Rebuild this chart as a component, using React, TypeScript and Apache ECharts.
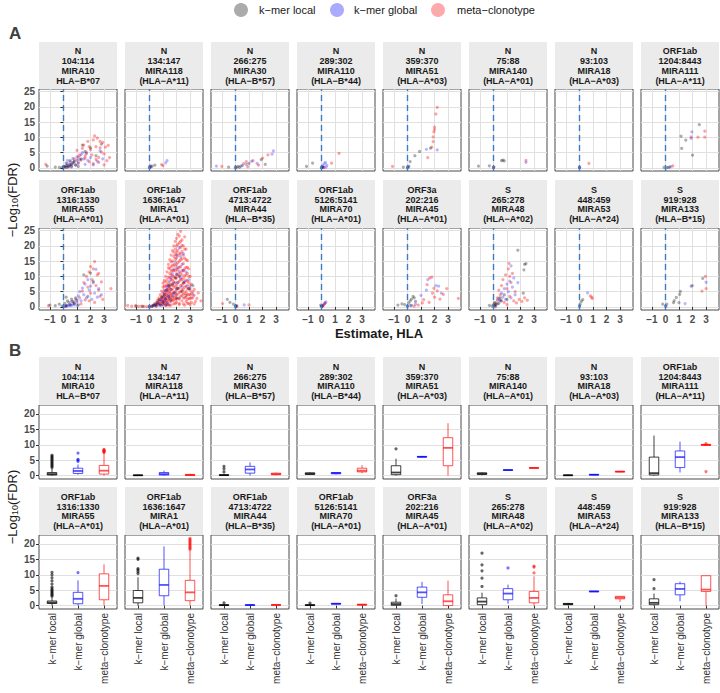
import React, { useEffect, useRef } from 'react';
import * as echarts from 'echarts';

const groups = ['k\u2212mer local', 'k\u2212mer global', 'meta\u2212clonotype'];

const facetProtein = ['N', 'N', 'N', 'N', 'N', 'N', 'N', 'ORF1ab', 'ORF1ab', 'ORF1ab', 'ORF1ab', 'ORF1ab', 'ORF3a', 'S', 'S', 'S'];
const facetRange = ['104:114', '134:147', '266:275', '289:302', '359:370', '75:88', '93:103', '1204:8443', '1316:1330', '1636:1647', '4713:4722', '5126:5141', '202:216', '265:278', '448:459', '919:928'];
const facetMira = ['MIRA10', 'MIRA118', 'MIRA30', 'MIRA110', 'MIRA51', 'MIRA140', 'MIRA18', 'MIRA111', 'MIRA55', 'MIRA1', 'MIRA44', 'MIRA70', 'MIRA45', 'MIRA48', 'MIRA53', 'MIRA133'];
const facetHla = ['HLA\u2212B*07', '(HLA\u2212A*11)', '(HLA\u2212B*57)', '(HLA\u2212B*44)', '(HLA\u2212A*03)', '(HLA\u2212A*01)', '(HLA\u2212A*03)', '(HLA\u2212A*11)', '(HLA\u2212A*01)', '(HLA\u2212A*01)', '(HLA\u2212B*35)', '(HLA\u2212A*01)', '(HLA\u2212A*01)', '(HLA\u2212A*02)', '(HLA\u2212A*24)', '(HLA\u2212B*15)'];

const xTicksA = [-1, 0, 1, 2, 3];
const yTicksA = [0, 5, 10, 15, 20, 25];
const yTicksB = [0, 5, 10, 15, 20];

// Panel A: [Estimate, -log10(FDR)] per facet
const localPts: number[][][] = [
  [[-0.3,0.2],[-0.1,0.1],[0,0.3],[0.1,0.5],[0.2,0.2],[0.3,0.8],[0.4,0.4],[0.5,1.2],[0.6,0.6],[0.7,1.5],[0.8,2.1],[0.9,1.0],[1.0,2.6],[1.1,0.5],[1.3,3.0],[1.4,7.5],[1.6,5.4],[2.0,6.6],[2.4,4.0],[2.8,7.8],[-1.2,0.6],[-0.6,0.3],[0.2,1.6],[0.5,2.4]],
  [[0,0.1],[0.2,0.6],[0.4,0.9]],
  [[-0.5,0.3],[0,0.1],[0.2,0.5],[0.5,0.8],[1.0,1.5],[1.9,2.7],[2.2,1.2],[0.3,0.2]],
  [[-1.1,0.5],[-0.65,1.6],[0,0.1],[0.1,0.3]],
  [[0,0.2],[0.1,0.6],[0.2,2.1],[0.55,4.0],[0.9,5.4],[1.7,6.5],[-0.3,0.3]],
  [[-1.1,0.6],[-0.3,0.7],[0,0.2],[0.6,2.4],[0.8,2.3],[0.7,2.6]],
  [[0,0.1]],
  [[-0.1,0.2],[0.1,0.1],[0.3,0.3],[1.15,10.4],[1.5,9.1],[1.2,6.4],[2.5,14.2],[2.0,4.2]],
  [[-1.0,0.6],[-0.6,0.4],[-0.3,0.9],[-0.1,0.3],[0.1,1.2],[0.2,0.5],[0.3,2.0],[0.4,1.5],[0.5,0.8],[0.6,2.6],[0.7,1.8],[0.8,1.1],[1.0,2.2],[1.1,0.6],[1.5,10.5],[2.0,11.1],[2.2,8.0],[1.8,3.5],[0.9,3.0],[0.2,3.2]],
  [[-1.0,0.3],[-0.5,0.2],[0,0.1],[0.2,0.3],[0.3,0.6],[0.5,0.3],[0.6,1.5],[0.7,2.4],[0.8,0.8],[0.9,3.2],[1.0,1.6],[1.1,4.0],[1.2,2.6],[1.3,5.5],[1.4,3.4],[1.5,6.8],[1.6,1.9],[1.7,7.5],[1.8,4.5],[1.9,9.5],[2.0,3.0],[2.1,6.2],[2.2,10.2],[2.4,5.0],[2.5,8.0],[2.7,3.8],[2.9,6.0],[3.2,7.0],[1.2,0.6],[0.4,1.0]],
  [[-0.6,2.5],[-0.4,1.5],[-0.15,0.9],[0,0.2],[0.1,0.4]],
  [[0,0.3],[-0.05,0.6],[0.05,0.2]],
  [[-0.7,0.6],[-0.4,1.0],[-0.2,0.8],[0,0.3],[0.1,1.3],[0.2,2.0],[0.3,2.6],[0.42,3.5],[0.6,1.8],[0.3,0.5],[0.5,3.0]],
  [[-0.1,0.3],[0,0.6],[0.05,1.0],[0.1,1.5],[0.2,0.8],[0.3,2.2],[0.4,1.2],[0.5,3.0],[0.6,2.0],[0.8,4.0],[1.0,2.5],[1.8,18.6],[2.3,14.0],[2.25,12.2],[2.4,14.2],[2.2,4.5],[-0.3,0.5],[0.15,0.1]],
  [[0,0.3],[0.05,0.9],[0.15,1.8],[0.25,2.4]],
  [[-0.2,0.9],[0.1,0.9],[0.6,1.4],[0.65,2.1],[0.8,3.1],[1.0,1.4],[1.05,4.1],[1.1,5.1],[1.9,6.8],[2.75,9.4],[0,0.3]],
];

const globalPts: number[][][] = [
  [[0.1,0.3],[0.2,0.8],[0.3,1.4],[0.4,0.6],[0.5,2.0],[0.6,1.2],[0.7,3.1],[0.8,2.2],[0.9,0.9],[1.0,3.6],[1.1,1.8],[1.2,2.8],[1.3,4.4],[1.5,3.0],[1.6,1.2],[1.8,2.5],[2.0,3.4],[2.2,1.0],[2.5,2.2],[2.7,5.6],[1.4,5.0],[0.3,2.5],[0.6,0.3],[1.7,4.7],[2.9,3.0]],
  [[0,0.2],[0.1,0.4],[0.05,0.8],[1.3,2.4],[1.2,1.7]],
  [[-1.4,0.6],[0,0.2],[0.4,0.6],[0.8,1.2],[1.2,2.2],[2.7,4.5],[2.8,5.6],[1.6,1.5]],
  [[0,0.1],[0.05,0.4],[0.1,0.8],[0.2,1.4],[0.3,1.8],[0.4,0.9],[0.35,0.3],[0.15,0.1]],
  [[0,0.1],[2.2,5.9],[1.4,6.1],[0.1,0.3]],
  [[0,0.1],[2.4,1.8]],
  [[0,0.3],[0.02,0.1]],
  [[0.2,0.2],[0.4,0.4],[1.95,11.8],[1.9,9.7]],
  [[0,0.1],[0.1,0.2],[0.2,0.3],[0.3,0.4],[0.4,0.5],[0.5,0.6],[0.6,0.4],[0.7,1.0],[0.8,0.7],[0.9,2.5],[1.0,1.5],[1.1,3.6],[1.2,5.0],[1.3,2.0],[1.4,6.2],[1.5,4.0],[1.6,7.5],[1.7,3.0],[1.8,9.0],[1.9,5.5],[2.0,6.8],[2.1,2.5],[2.2,8.5],[2.3,4.5],[2.4,12.3],[2.5,3.2],[2.6,6.0],[1.0,0.5],[0.6,1.8],[2.8,4.0]],
  [[0.0,0.1],[0.2,0.2],[0.4,0.4],[0.5,0.8],[0.6,1.2],[0.7,0.6],[0.8,1.8],[0.9,2.5],[1.0,1.0],[1.0,3.5],[1.1,4.8],[1.1,2.0],[1.2,5.5],[1.2,3.0],[1.3,6.5],[1.3,1.4],[1.4,7.0],[1.4,4.0],[1.5,8.5],[1.5,2.8],[1.6,9.5],[1.6,5.8],[1.7,11.0],[1.7,3.6],[1.8,12.5],[1.8,7.8],[1.9,14.8],[1.9,4.5],[2.0,17.0],[2.0,10.5],[2.0,6.0],[2.1,13.0],[2.1,8.0],[2.2,19.5],[2.2,11.5],[2.2,3.0],[2.3,16.5],[2.3,9.5],[2.4,14.0],[2.4,6.5],[2.5,12.0],[2.5,17.5],[2.6,8.5],[2.7,11.5],[2.8,7.0],[2.9,9.0],[3.0,6.2],[3.2,4.0],[1.4,0.8],[0.9,0.4]],
  [[0,0.3],[0.05,0.1],[0.65,0.65]],
  [[0.33,1.7],[0.25,1.2],[0.1,0.5],[0,0.2]],
  [[0,0.2],[0.2,0.4],[1.0,3.8],[1.5,9.0],[2.1,7.0],[2.3,6.8],[0.6,0.9],[1.4,5.5],[2.5,4.5]],
  [[0.1,0.4],[0.3,1.0],[0.5,2.0],[0.6,4.5],[0.7,3.2],[0.8,6.0],[0.9,2.5],[1.0,7.5],[1.1,5.0],[1.2,8.5],[1.3,13.5],[1.4,6.5],[1.5,9.5],[1.6,4.0],[1.8,8.0],[1.3,3.0],[0.4,2.8]],
  [[0.6,4.6],[0.02,0.2]],
  [[1.45,1.1],[2.0,7.0],[3.0,8.1],[0.05,0.2]],
];

const metaPts: number[][][] = [
  [[-1.3,1.2],[0.0,0.5],[0.3,0.2],[0.5,1.0],[0.8,3.0],[1.0,5.8],[1.1,1.5],[1.2,4.2],[1.3,2.6],[1.4,6.4],[1.5,7.5],[1.6,3.2],[1.7,5.0],[1.8,8.7],[1.9,2.0],[2.0,6.0],[2.1,4.3],[2.2,9.2],[2.3,10.5],[2.4,7.0],[2.5,9.8],[2.6,3.5],[2.7,6.6],[2.8,5.2],[2.9,8.4],[3.0,4.6],[3.1,6.8],[3.2,2.4],[3.3,7.4],[2.2,1.4],[2.6,1.8],[3.4,3.4],[1.9,7.0],[2.7,8.7],[1.6,4.0],[2.4,2.8],[3.0,1.0],[0.7,1.8],[1.1,3.6]],
  [[0.9,1.1],[1.0,0.8],[0.1,0.3]],
  [[-1.0,0.5],[0.1,0.2],[0.6,1.4],[0.8,2.1],[1.3,2.4],[2.4,4.3],[1.7,0.9],[2.0,3.2],[0.9,0.4]],
  [[0.75,1.6],[1.3,4.8],[0.2,0.2]],
  [[-1.1,0.5],[1.5,3.4],[1.9,8.6],[1.9,10.2],[1.95,11.8],[2.0,13.4],[2.1,17.7],[2.2,19.9],[1.8,6.8],[2.0,12.6]],
  [[2.4,2.5],[0.05,0.3]],
  [[0.7,1.5]],
  [[0.55,0.7],[1.9,10.2],[2.4,10.1],[2.9,12.1],[2.9,10.1]],
  [[-1.1,0.4],[0.2,0.2],[0.8,1.5],[1.2,3.0],[1.4,5.2],[1.5,8.0],[1.6,2.3],[1.7,10.0],[1.8,6.5],[1.9,11.5],[2.0,4.5],[2.1,9.0],[2.2,12.5],[2.3,14.9],[2.4,7.0],[2.5,10.5],[2.6,5.5],[2.7,3.5],[2.8,8.2],[3.5,6.0],[1.9,2.0],[2.3,1.5],[2.0,13.2],[2.6,11.0],[1.3,1.0],[2.9,2.5]],
  [[-1.6,0.5],[-1.3,0.3],[-1.0,0.4],[-0.8,0.2],[-0.6,0.3],[-0.4,0.2],[-0.2,0.1],[0,0.2],[0.2,0.3],[0.3,0.5],[0.4,0.8],[0.5,0.4],[0.5,1.5],[0.6,2.2],[0.6,0.9],[0.7,3.0],[0.7,1.2],[0.8,0.6],[0.8,2.5],[0.8,4.0],[0.9,1.8],[0.9,5.2],[0.9,3.3],[1.0,0.8],[1.0,2.0],[1.0,4.5],[1.0,6.5],[1.0,7.8],[1.1,1.2],[1.1,3.0],[1.1,5.5],[1.1,8.6],[1.2,0.5],[1.2,2.6],[1.2,4.2],[1.2,6.8],[1.2,10.0],[1.3,1.5],[1.3,3.8],[1.3,7.2],[1.3,9.0],[1.3,11.5],[1.4,0.9],[1.4,2.4],[1.4,5.0],[1.4,8.0],[1.4,12.8],[1.4,14.0],[1.5,1.8],[1.5,3.5],[1.5,6.2],[1.5,9.6],[1.5,11.0],[1.5,15.5],[1.6,0.7],[1.6,4.5],[1.6,7.5],[1.6,10.5],[1.6,13.2],[1.6,17.0],[1.7,2.2],[1.7,5.8],[1.7,8.8],[1.7,12.0],[1.7,15.0],[1.7,18.5],[1.8,1.0],[1.8,3.2],[1.8,6.8],[1.8,10.0],[1.8,14.0],[1.8,16.5],[1.8,20.0],[1.9,2.6],[1.9,5.0],[1.9,8.0],[1.9,11.8],[1.9,13.5],[1.9,19.0],[1.9,21.5],[2.0,1.5],[2.0,4.0],[2.0,7.2],[2.0,9.5],[2.0,12.5],[2.0,16.0],[2.0,18.0],[2.0,22.5],[2.1,2.8],[2.1,6.0],[2.1,10.8],[2.1,14.5],[2.1,20.5],[2.1,23.8],[2.2,1.2],[2.2,4.8],[2.2,8.5],[2.2,13.0],[2.2,17.5],[2.2,21.0],[2.3,3.5],[2.3,7.0],[2.3,11.2],[2.3,15.5],[2.3,19.5],[2.3,24.8],[2.4,2.0],[2.4,5.5],[2.4,9.0],[2.4,12.0],[2.4,18.2],[2.4,22.0],[2.5,1.0],[2.5,4.2],[2.5,7.8],[2.5,14.2],[2.5,20.0],[2.6,3.0],[2.6,6.5],[2.6,10.2],[2.6,16.0],[2.6,23.0],[2.7,1.8],[2.7,5.0],[2.7,8.8],[2.7,13.0],[2.7,19.0],[2.8,2.5],[2.8,6.0],[2.8,11.0],[2.8,15.2],[2.9,1.2],[2.9,4.0],[2.9,8.0],[2.9,12.5],[3.0,2.8],[3.0,5.5],[3.0,10.0],[3.1,1.5],[3.1,4.5],[3.1,7.5],[3.2,3.0],[3.3,5.8],[3.4,1.8],[3.5,2.8],[3.6,4.6],[3.8,2.0],[3.0,0.8],[2.6,0.6],[1.2,1.5],[1.5,0.4],
   [0.9,2.6],[1.0,3.2],[1.1,2.2],[1.1,4.0],[1.1,6.8],[1.2,3.4],[1.2,5.2],[1.2,8.2],[1.3,2.2],[1.3,4.6],[1.3,5.8],[1.4,3.2],[1.4,6.0],[1.4,7.0],[1.4,9.8],[1.5,2.6],[1.5,4.4],[1.5,5.2],[1.5,7.2],[1.5,12.6],[1.6,2.6],[1.6,3.6],[1.6,5.8],[1.6,9.0],[1.6,11.8],[1.6,14.8],[1.7,3.0],[1.7,4.2],[1.7,7.0],[1.7,10.2],[1.7,13.6],[1.8,2.2],[1.8,4.8],[1.8,8.2],[1.8,12.0],[1.8,18.0],[1.9,3.6],[1.9,6.4],[1.9,9.5],[1.9,15.8],[1.9,17.2],[2.0,2.6],[2.0,5.6],[2.0,10.8],[2.0,14.0],[2.0,20.0],[2.1,4.2],[2.1,8.0],[2.1,12.2],[2.1,16.8],[2.1,18.6],[2.2,2.6],[2.2,6.2],[2.2,10.0],[2.2,15.0],[2.2,23.2],[2.3,5.0],[2.3,9.0],[2.3,13.2],[2.3,17.5],[2.3,21.5],[2.4,3.8],[2.4,7.2],[2.4,10.5],[2.4,15.8],[2.4,20.2],[2.5,3.0],[2.5,5.8],[2.5,9.5],[2.5,11.8],[2.5,17.0],[2.6,4.5],[2.6,8.0],[2.6,12.5],[2.6,19.0],[2.7,3.2],[2.7,6.8],[2.7,10.5],[2.7,15.5],[2.8,4.2],[2.8,8.5],[2.8,13.0],[2.9,2.8],[2.9,6.0],[2.9,10.0],[3.0,4.0],[3.0,7.0],[3.1,3.0],[3.2,5.0],[3.3,3.8],[0.8,1.2],[0.7,2.0],[1.0,1.4],[1.3,0.6],[1.9,1.2],[2.2,0.8],[2.8,1.2],[3.3,1.0]],
  [[-0.95,1.1],[1.0,0.65],[0.1,0.2]],
  [[0.2,0.9],[0.15,0.6],[0.28,1.3],[0.08,0.3]],
  [[0.8,0.6],[1.1,1.3],[1.45,7.3],[1.65,9.5],[1.8,9.8],[1.85,4.5],[1.95,6.1],[2.4,2.6],[2.65,4.1],[2.9,6.0],[3.75,2.8],[1.2,2.4],[2.0,3.2],[1.6,1.5],[2.2,5.3],[0.5,0.3]],
  [[0.1,0.5],[0.2,1.2],[0.3,3.0],[0.4,5.5],[0.5,2.2],[0.6,7.0],[0.7,9.0],[0.8,1.5],[0.9,10.5],[1.0,6.0],[1.1,12.5],[1.15,14.3],[1.2,3.5],[1.3,8.0],[1.4,11.0],[1.5,2.0],[1.6,5.0],[1.7,1.3],[1.9,2.5],[2.1,1.8],[2.3,3.0],[2.5,2.2],[1.2,10.0],[0.5,4.0],[1.0,0.8]],
  [[0.8,3.6],[0.95,2.8],[0.9,3.2]],
  [[2.7,5.2],[2.95,10.0],[3.0,6.0]],
];

// Panel B: box statistics [min, Q1, median, Q3, max] per facet
const localBox: number[][] = [
  [0,0.2,0.5,1.0,2.2],[0,0.05,0.1,0.2,0.35],[0,0.05,0.15,0.3,0.6],[0.2,0.4,0.6,0.9,1.1],
  [0,0.3,1.0,3.2,5.5],[0.1,0.4,0.6,0.9,1.1],[0,0.05,0.1,0.2,0.3],[0,0.2,0.8,6.0,13.0],
  [0,0.7,1.0,1.5,2.5],[0,0.9,2.5,4.9,9.2],[0,0.05,0.15,0.3,0.5],[0,0.05,0.15,0.3,0.5],
  [0,0.1,0.5,1.1,2.3],[0,0.3,1.3,2.5,4.2],[0.1,0.3,0.5,0.7,0.9],[0,0.3,0.9,2.2,3.9],
];
const globalBox: number[][] = [
  [0.3,0.7,1.5,2.4,3.6],[0,0.2,0.5,1.0,1.6],[0,0.8,2.0,3.0,4.3],[0.4,0.6,0.8,1.0,1.2],
  [5.8,6.0,6.1,6.2,6.4],[1.6,1.7,1.8,1.9,2.0],[0.2,0.25,0.3,0.35,0.4],[1.0,2.6,6.0,8.0,11.0],
  [0.1,0.6,2.2,4.3,8.2],[0.1,3.2,6.7,11.8,19.2],[0.1,0.15,0.2,0.25,0.3],[0.4,0.5,0.6,0.7,0.8],
  [0.5,2.7,4.3,6.0,7.7],[0.6,1.9,3.9,5.5,6.8],[4.5,4.55,4.6,4.65,4.7],[1.4,3.5,5.4,7.1,7.8],
];
const metaBox: number[][] = [
  [0,0.5,1.6,3.3,7.2],[0,0.05,0.2,0.4,0.6],[0.1,0.3,0.5,0.8,1.0],[0.8,1.2,1.6,2.4,3.4],
  [0,3.2,9.0,12.3,17.0],[2.4,2.45,2.5,2.55,2.6],[1.1,1.2,1.3,1.35,1.4],[9.6,9.8,10.0,10.1,10.2],
  [0.1,1.9,6.4,10.3,13.4],[0.1,1.6,4.3,8.2,17.8],[0.1,0.15,0.2,0.3,0.4],[0.1,0.2,0.3,0.4,0.5],
  [0,0,1.4,3.5,8.1],[0,0.9,2.5,4.6,9.5],[1.2,2.2,2.6,3.0,3.1],[0,4.6,5.2,9.7,9.7],
];
const localOut: number[][] = [
  [2.6,3.0,3.4,3.8,4.2,4.6,5.0,5.4,5.8,6.2,6.6],[],[1.2,2.2,3.0],[],[8.7],[],[],[],
  [3.0,3.4,3.8,4.2,4.6,5.0,5.5,6.0,7.0,8.0,9.0,10.0,10.8],[10.4,11.0,11.6,12.0,15.0,15.4],[0.9],[0.8],[3.2],[6.2,8.9,11.3,13.2,17.0],[],[5.5,8.4],
];
const globalOut: number[][] = [
  [4.6,5.0,5.3,7.3],[],[],[],[],[],[],[],[10.7],[],[],[],[],[12.2],[],[],
];
const metaOut: number[][] = [
  [7.5,7.7,7.9,8.1,8.3,8.5],[],[],[],[],[],[],[10.4,1.3],[],
  [18.2,18.6,19.0,19.4,19.8,20.2,20.6,21.0,21.4,21.8],[],[],[],[10.6,12.5,12.8],[],[],
];

const FONT = '"Liberation Sans", Arial, Helvetica, sans-serif';
const COLS = [39, 125, 211, 297, 383, 469, 555, 641];
const PW = 78;
const A_STRIP = [42, 180];
const A_TOP = [89, 228];
const A_H = 82;
const B_STRIP = [357, 487];
const B_TOP = [405, 535];
const B_H = 74;
const ptColors = ['rgba(0,0,0,0.4)', 'rgba(0,0,255,0.35)', 'rgba(255,0,0,0.45)'];
const boxColors = ['rgba(0,0,0,0.75)', 'rgba(0,0,255,0.68)', 'rgba(255,0,0,0.68)'];
const minusFmt = (v: number) => (v < 0 ? '\u2212' + Math.abs(v) : String(v));

function buildOption() {
  const grid: any[] = [];
  const xAxis: any[] = [];
  const yAxis: any[] = [];
  const series: any[] = [];
  const graphic: any[] = [];

  const gridBase = { show: true, borderColor: '#4a4a4a', borderWidth: 1, backgroundColor: '#fff', containLabel: false, outerBoundsMode: 'none' };
  const splitLine = { show: true, lineStyle: { color: '#e0e0e0', width: 1 } };
  const tickStyle = { lineStyle: { color: '#333', width: 1 }, length: 3 };
  const numLabel = { fontSize: 10, color: '#4d4d4d', fontWeight: 'bold', fontFamily: FONT };
  const catLabel = { fontSize: 10, color: '#333', fontFamily: FONT };

  const stripText = (k: number) => [facetProtein[k], facetRange[k], facetMira[k], facetHla[k]].join('\n');
  const stripStyle = { align: 'center', verticalAlign: 'middle', fontSize: 9, fontWeight: 'bold', lineHeight: 9.8, fill: '#1a1a1a', fontFamily: FONT };

  for (let k = 0; k < 16; k++) {
    const row = Math.floor(k / 8);
    const col = k % 8;
    grid.push({ ...gridBase, left: COLS[col], top: A_TOP[row], width: PW, height: A_H });
    xAxis.push({
      gridIndex: k, type: 'value', min: -1.8, max: 3.95,
      axisLine: { show: false },
      axisTick: { show: row === 1, customValues: xTicksA, ...tickStyle },
      axisLabel: { show: row === 1, customValues: xTicksA, formatter: minusFmt, margin: 4, ...numLabel },
      splitLine,
    });
    yAxis.push({
      gridIndex: k, type: 'value', min: -1.0, max: 25.9,
      axisLine: { show: false },
      axisTick: { show: col === 0, customValues: yTicksA, ...tickStyle },
      axisLabel: { show: col === 0, customValues: yTicksA, margin: 4, ...numLabel },
      splitLine,
    });
    graphic.push({ type: 'rect', shape: { x: COLS[col], y: A_STRIP[row], width: PW, height: A_TOP[row] - A_STRIP[row] }, style: { fill: '#ebebeb' }, silent: true });
    graphic.push({ type: 'text', x: COLS[col] + PW / 2, y: (A_STRIP[row] + A_TOP[row]) / 2 + 0.5, style: { text: stripText(k), ...stripStyle }, silent: true });
  }
  for (let k = 0; k < 16; k++) {
    const row = Math.floor(k / 8);
    const col = k % 8;
    const gi = 16 + k;
    grid.push({ ...gridBase, left: COLS[col], top: B_TOP[row], width: PW, height: B_H });
    xAxis.push({
      gridIndex: gi, type: 'category', data: groups, boundaryGap: true,
      axisLine: { show: false },
      axisTick: { show: row === 1, alignWithLabel: true, ...tickStyle },
      axisLabel: { show: row === 1, rotate: 90, margin: 4, interval: 0, ...catLabel },
      splitLine: { show: false },
    });
    yAxis.push({
      gridIndex: gi, type: 'value', min: -1.1, max: 22.9,
      axisLine: { show: false },
      axisTick: { show: col === 0, customValues: yTicksB, ...tickStyle },
      axisLabel: { show: col === 0, customValues: yTicksB, margin: 4, ...numLabel },
      splitLine,
    });
    graphic.push({ type: 'rect', shape: { x: COLS[col], y: B_STRIP[row], width: PW, height: B_TOP[row] - B_STRIP[row] }, style: { fill: '#ebebeb' }, silent: true });
    graphic.push({ type: 'text', x: COLS[col] + PW / 2, y: (B_STRIP[row] + B_TOP[row]) / 2 + 0.5, style: { text: stripText(k), ...stripStyle }, silent: true });
  }

  // scatter series (panel A)
  for (let k = 0; k < 16; k++) {
    const sets = [metaPts[k], globalPts[k], localPts[k]];
    const names = [groups[2], groups[1], groups[0]];
    const cols = [ptColors[2], ptColors[1], ptColors[0]];
    sets.forEach((d, i) => {
      const s: any = {
        type: 'scatter', name: names[i], xAxisIndex: k, yAxisIndex: k, data: d,
        symbol: 'circle', symbolSize: 3.2, itemStyle: { color: cols[i] }, silent: true,
      };
      if (i === 0) {
        s.markLine = {
          silent: true, symbol: ['none', 'none'], label: { show: false },
          lineStyle: { color: '#3b7cc2', type: [6, 4], width: 1.4 },
          data: [{ xAxis: 0 }], animation: false,
        };
      }
      series.push(s);
    });
  }

  // box plots (panel B)
  const boxSets = [localBox, globalBox, metaBox];
  const outSets = [localOut, globalOut, metaOut];
  for (let k = 0; k < 16; k++) {
    const gi = 16 + k;
    const data = boxSets.map((b, i) => [i, ...b[k]]);
    series.push({
      type: 'custom', xAxisIndex: gi, yAxisIndex: gi, data, silent: true,
      encode: { x: 0, y: [1, 2, 3, 4, 5] },
      renderItem: (params: any, api: any) => {
        const c = api.value(0);
        const pMin = api.coord([c, api.value(1)]);
        const pQ1 = api.coord([c, api.value(2)]);
        const pMed = api.coord([c, api.value(3)]);
        const pQ3 = api.coord([c, api.value(4)]);
        const pMax = api.coord([c, api.value(5)]);
        const x = pMed[0];
        const w = 9.5;
        const color = boxColors[c];
        return {
          type: 'group',
          children: [
            { type: 'line', shape: { x1: x, y1: pMax[1], x2: x, y2: pQ3[1] }, style: { stroke: color, lineWidth: 1 } },
            { type: 'line', shape: { x1: x, y1: pQ1[1], x2: x, y2: pMin[1] }, style: { stroke: color, lineWidth: 1 } },
            { type: 'rect', shape: { x: x - w / 2, y: pQ3[1], width: w, height: Math.max(pQ1[1] - pQ3[1], 0.5) }, style: { fill: '#fff', stroke: color, lineWidth: 1 } },
            { type: 'line', shape: { x1: x - w / 2, y1: pMed[1], x2: x + w / 2, y2: pMed[1] }, style: { stroke: color, lineWidth: 1.8 } },
          ],
        };
      },
    });
    const outData: any[] = [];
    outSets.forEach((o, i) => {
      o[k].forEach((v) => outData.push({ value: [i, v], itemStyle: { color: boxColors[i] } }));
    });
    series.push({
      type: 'scatter', xAxisIndex: gi, yAxisIndex: gi, data: outData,
      symbol: 'circle', symbolSize: 3.2, silent: true, z: 3,
    });
  }

  // legend
  const legendX = [241, 337, 438];
  const legendTextX = [259, 354, 457];
  const legendFill = ['#ababab', '#aaaaff', '#ffaaaa'];
  groups.forEach((g, i) => {
    graphic.push({ type: 'circle', shape: { cx: legendX[i], cy: 10, r: 7 }, style: { fill: legendFill[i] }, silent: true });
    graphic.push({ type: 'text', x: legendTextX[i], y: 10, style: { text: g, fontSize: 11, fill: '#1a1a1a', verticalAlign: 'middle', align: 'left', fontFamily: FONT }, silent: true });
  });

  // panel letters
  graphic.push({ type: 'text', x: 9, y: 33, style: { text: 'A', fontSize: 17, fontWeight: 'bold', fill: '#404040', verticalAlign: 'middle', fontFamily: FONT }, silent: true });
  graphic.push({ type: 'text', x: 9, y: 350, style: { text: 'B', fontSize: 17, fontWeight: 'bold', fill: '#404040', verticalAlign: 'middle', fontFamily: FONT }, silent: true });

  // axis titles
  const yTitle = (cy: number) => ({
    type: 'text', x: 12, y: cy, rotation: Math.PI / 2, silent: true,
    style: {
      text: '\u2212Log{sub|10}(FDR)', align: 'center', verticalAlign: 'middle', fontSize: 13, fill: '#1a1a1a', fontFamily: FONT,
      rich: { sub: { fontSize: 9, fontFamily: FONT, fill: '#1a1a1a', verticalAlign: 'bottom', padding: [5, 0, 0, 0] } },
    },
  });
  graphic.push(yTitle(200));
  graphic.push(yTitle(507));
  graphic.push({ type: 'text', x: 379, y: 333, silent: true, style: { text: 'Estimate, HLA', align: 'center', verticalAlign: 'middle', fontSize: 13, fontWeight: 'bold', fill: '#1a1a1a', fontFamily: FONT } });

  return {
    animation: false,
    backgroundColor: '#ffffff',
    textStyle: { fontFamily: FONT },
    grid, xAxis, yAxis, series, graphic,
  };
}

export default function App() {
  const ref = useRef<HTMLDivElement>(null);
  useEffect(() => {
    if (!ref.current) return;
    const chart = echarts.init(ref.current, undefined, { renderer: 'svg' });
    chart.setOption(buildOption() as any);
    return () => chart.dispose();
  }, []);
  return <div ref={ref} style={{ position: 'fixed', left: 0, top: 0, width: 720, height: 693, background: '#fff' }} />;
}
